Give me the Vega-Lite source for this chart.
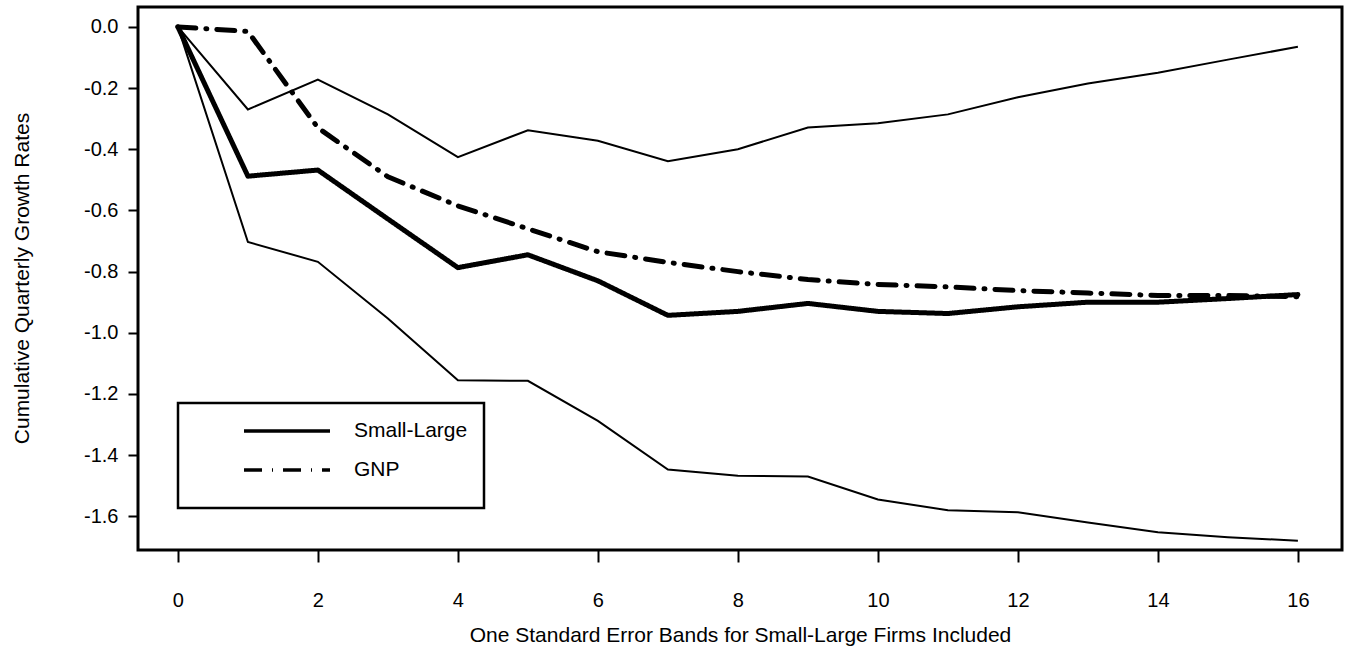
{
  "$schema": "https://vega.github.io/schema/vega-lite/v6.json",
  "width": 1204,
  "height": 543,
  "autosize": {"type": "none"},
  "padding": {"left": 138, "top": 7, "right": 13, "bottom": 108},
  "background": "white",
  "config": {
    "view": {"stroke": "black", "strokeWidth": 3},
    "font": "Liberation Sans",
    "axis": {"domain": false, "grid": false, "tickColor": "black", "tickWidth": 2, "labelColor": "black", "titleColor": "black", "labelFont": "Liberation Sans", "titleFont": "Liberation Sans", "titleFontWeight": "normal", "labelFontSize": 20, "titleFontSize": 21}
  },
  "data": {
    "values": [
      {"k": 0, "series": "Upper", "v": 0},
      {"k": 1, "series": "Upper", "v": -0.27},
      {"k": 2, "series": "Upper", "v": -0.172},
      {"k": 3, "series": "Upper", "v": -0.286},
      {"k": 4, "series": "Upper", "v": -0.426},
      {"k": 5, "series": "Upper", "v": -0.338},
      {"k": 6, "series": "Upper", "v": -0.372},
      {"k": 7, "series": "Upper", "v": -0.439},
      {"k": 8, "series": "Upper", "v": -0.40},
      {"k": 9, "series": "Upper", "v": -0.329},
      {"k": 10, "series": "Upper", "v": -0.315},
      {"k": 11, "series": "Upper", "v": -0.286},
      {"k": 12, "series": "Upper", "v": -0.23},
      {"k": 13, "series": "Upper", "v": -0.185},
      {"k": 14, "series": "Upper", "v": -0.15},
      {"k": 15, "series": "Upper", "v": -0.107},
      {"k": 16, "series": "Upper", "v": -0.065},
      {"k": 0, "series": "Lower", "v": 0},
      {"k": 1, "series": "Lower", "v": -0.703},
      {"k": 2, "series": "Lower", "v": -0.768},
      {"k": 3, "series": "Lower", "v": -0.953},
      {"k": 4, "series": "Lower", "v": -1.155},
      {"k": 5, "series": "Lower", "v": -1.157},
      {"k": 6, "series": "Lower", "v": -1.288},
      {"k": 7, "series": "Lower", "v": -1.447},
      {"k": 8, "series": "Lower", "v": -1.467},
      {"k": 9, "series": "Lower", "v": -1.47},
      {"k": 10, "series": "Lower", "v": -1.545},
      {"k": 11, "series": "Lower", "v": -1.58},
      {"k": 12, "series": "Lower", "v": -1.587},
      {"k": 13, "series": "Lower", "v": -1.62},
      {"k": 14, "series": "Lower", "v": -1.652},
      {"k": 15, "series": "Lower", "v": -1.668},
      {"k": 16, "series": "Lower", "v": -1.68},
      {"k": 0, "series": "Small-Large", "v": 0},
      {"k": 1, "series": "Small-Large", "v": -0.488},
      {"k": 2, "series": "Small-Large", "v": -0.468},
      {"k": 3, "series": "Small-Large", "v": -0.628},
      {"k": 4, "series": "Small-Large", "v": -0.787},
      {"k": 5, "series": "Small-Large", "v": -0.745},
      {"k": 6, "series": "Small-Large", "v": -0.83},
      {"k": 7, "series": "Small-Large", "v": -0.943},
      {"k": 8, "series": "Small-Large", "v": -0.93},
      {"k": 9, "series": "Small-Large", "v": -0.904},
      {"k": 10, "series": "Small-Large", "v": -0.93},
      {"k": 11, "series": "Small-Large", "v": -0.937},
      {"k": 12, "series": "Small-Large", "v": -0.915},
      {"k": 13, "series": "Small-Large", "v": -0.90},
      {"k": 14, "series": "Small-Large", "v": -0.90},
      {"k": 15, "series": "Small-Large", "v": -0.888},
      {"k": 16, "series": "Small-Large", "v": -0.875},
      {"k": 0, "series": "GNP", "v": 0},
      {"k": 1, "series": "GNP", "v": -0.015},
      {"k": 2, "series": "GNP", "v": -0.33},
      {"k": 3, "series": "GNP", "v": -0.49},
      {"k": 4, "series": "GNP", "v": -0.585},
      {"k": 5, "series": "GNP", "v": -0.66},
      {"k": 6, "series": "GNP", "v": -0.735},
      {"k": 7, "series": "GNP", "v": -0.77},
      {"k": 8, "series": "GNP", "v": -0.80},
      {"k": 9, "series": "GNP", "v": -0.826},
      {"k": 10, "series": "GNP", "v": -0.842},
      {"k": 11, "series": "GNP", "v": -0.85},
      {"k": 12, "series": "GNP", "v": -0.862},
      {"k": 13, "series": "GNP", "v": -0.87},
      {"k": 14, "series": "GNP", "v": -0.878},
      {"k": 15, "series": "GNP", "v": -0.878},
      {"k": 16, "series": "GNP", "v": -0.882}
    ]
  },
  "encoding": {
    "x": {
      "field": "k", "type": "quantitative",
      "scale": {"domain": [-0.57, 16.63], "nice": false, "zero": false},
      "axis": {"values": [0, 2, 4, 6, 8, 10, 12, 14, 16], "format": "d", "tickSize": 12, "labelPadding": 28, "title": "One Standard Error Bands for Small-Large Firms Included", "titleX": 602, "titleY": 85, "titleBaseline": "middle", "titleAnchor": "middle"}
    },
    "y": {
      "field": "v", "type": "quantitative",
      "scale": {"domain": [-1.71, 0.065], "nice": false, "zero": false},
      "axis": {"values": [0, -0.2, -0.4, -0.6, -0.8, -1.0, -1.2, -1.4, -1.6], "labelExpr": "replace(format(datum.value, '.1f'), '\u2212', '-')", "tickSize": 10, "labelPadding": 10, "title": "Cumulative Quarterly Growth Rates", "titleX": -116, "titleY": 271, "titleAngle": -90, "titleBaseline": "middle", "titleAlign": "center"}
    }
  },
  "layer": [
    {
      "transform": [{"filter": "datum.series == 'Upper' || datum.series == 'Lower'"}],
      "mark": {"type": "line", "color": "black", "strokeWidth": 2},
      "encoding": {"detail": {"field": "series"}}
    },
    {
      "transform": [{"filter": "datum.series == 'Small-Large' || datum.series == 'GNP'"}],
      "mark": {"type": "line", "color": "black", "strokeWidth": 5, "strokeCap": "round", "strokeJoin": "round"},
      "encoding": {
        "strokeDash": {
          "field": "series", "type": "nominal",
          "scale": {"domain": ["Small-Large", "GNP"], "range": [[1, 0], [18, 10, 1, 10]]},
          "legend": {
            "title": " ", "titleOrient": "bottom", "titleFontSize": 6, "titlePadding": 6,
            "orient": "none", "legendX": 40, "legendY": 396,
            "symbolType": "M-4.3,0H4.3", "symbolSize": 400, "symbolStrokeWidth": 3.5, "symbolStrokeColor": "black",
            "labelFontSize": 21, "labelFont": "Liberation Sans", "labelColor": "black", "labelOffset": 55,
            "padding": 16, "rowPadding": 17, "symbolOffset": 81,
            "strokeColor": "black", "fillColor": "white",
            "encode": {"legend": {"update": {"strokeWidth": {"value": 2.5}}}}
          }
        }
      }
    }
  ]
}
